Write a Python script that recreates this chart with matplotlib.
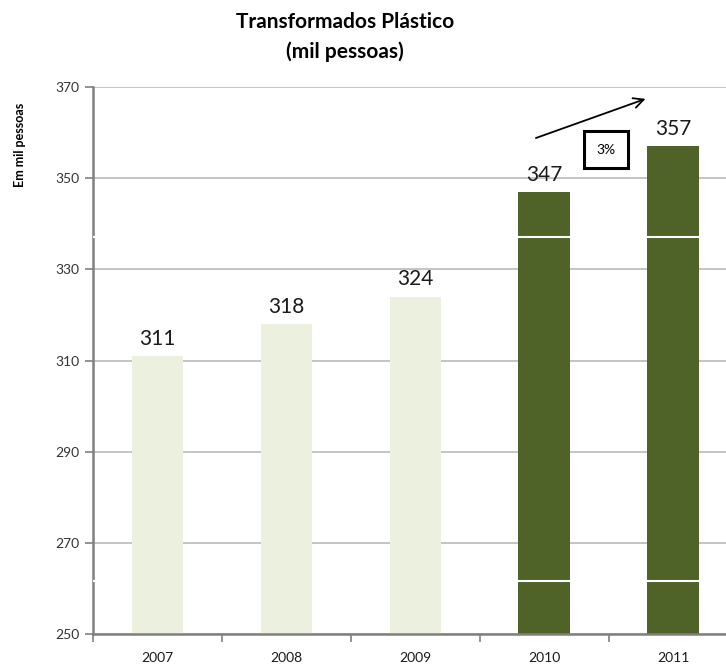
import matplotlib.pyplot as plt

plt.rcParams['font.family'] = ['Lato', 'DejaVu Sans']

# data
years = ['2007', '2008', '2009', '2010', '2011']
values = [311, 318, 324, 347, 357]
colors = ['#EBF1DE', '#EBF1DE', '#EBF1DE', '#4F6228', '#4F6228']
yticks = [250, 270, 290, 310, 330, 350, 370]
break_levels = [337.1, 261.6]
growth_label = '3%'

fig = plt.figure(figsize=(7.26, 6.66), dpi=100)
ax = fig.add_axes([93 / 726, 32 / 666, 1 - 93 / 726, (634 - 87) / 666])

x = list(range(len(years)))
heights = [v - 250 for v in values]
# light bars sit above the white break lines, dark ones below
for xi, h, c in zip(x, heights, colors):
    z = 5 if c == '#EBF1DE' else 2
    ax.bar(xi, h, bottom=250, width=0.40, color=c, zorder=z)

for xi, v in zip(x, values):
    ax.text(xi, v + 1.6, str(v), ha='center', va='bottom', fontsize=15, color='#1a1a1a')

# white lines cutting through the dark bars and the axis
for lv in break_levels:
    ax.axhline(lv, color='white', lw=1.5, zorder=4)

ax.set_ylim(250, 370)
ax.set_xlim(-0.5, 4.41)
ax.set_yticks(yticks)
ax.set_yticklabels([str(t) for t in yticks], fontsize=10, color='#333333')
ax.yaxis.grid(True, color='#BFBFBF', lw=1.3, zorder=0)
ax.set_axisbelow(True)

ax.set_xticks(x)
ax.set_xticklabels(years, fontsize=10, color='#1a1a1a')
ax.set_xticks([i - 0.5 for i in range(len(years))], minor=True)
ax.tick_params(axis='x', which='major', length=0, pad=13)
ax.tick_params(axis='x', which='minor', length=6, color='#808080', width=1.2)
ax.tick_params(axis='y', length=6, color='#808080', width=1.2, pad=4)

for s in ['top', 'right']:
    ax.spines[s].set_visible(False)
for s in ['left', 'bottom']:
    ax.spines[s].set_color('#808080')
    ax.spines[s].set_linewidth(1.8)
ax.spines['bottom'].set_zorder(7)

# growth arrow and box
ax.annotate('', xy=(3.806, 367.6), xytext=(2.915, 358.6),
            arrowprops=dict(arrowstyle='->', color='black', lw=1.3, mutation_scale=18),
            zorder=6)
ax.text(3.48, 356.2, growth_label, ha='center', va='center', fontsize=10, zorder=6,
        bbox=dict(boxstyle='square,pad=0.9', fc='white', ec='black', lw=2.2))

fig.text(345 / 726, 1 - 22 / 666, 'Transformados Plástico', ha='center', va='center',
         fontsize=15, fontweight='bold')
fig.text(345 / 726, 1 - 52 / 666, '(mil pessoas)', ha='center', va='center',
         fontsize=15, fontweight='bold')
fig.text(20 / 726, 1 - 145 / 666, 'Em mil pessoas', rotation=90, ha='center', va='center',
         fontsize=9, fontweight='bold')

fig.savefig('out.png', dpi=100)
